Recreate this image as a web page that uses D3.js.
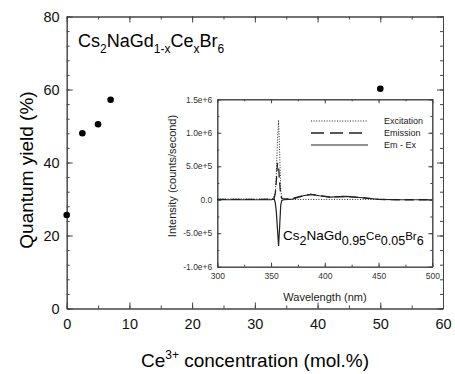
<!DOCTYPE html>
<html>
<head>
<meta charset="utf-8">
<script src="https://cdn.jsdelivr.net/npm/d3@7"></script>
<style>
body { margin: 0; background: #fff; }
svg { font-family: "Liberation Sans", Arial, sans-serif; }
.axis path { stroke: #444; }
.axis line { stroke: #444; }
</style>
</head>
<body>
<div class="container"></div>
<script>
const WIDTH = 455;
const HEIGHT = 374;

// main plot: quantum yield vs Ce concentration
var ceConc = [0, 2.5, 5, 7, 50];
var quantumYield = [25.6, 48, 50.5, 57.2, 60.2];
var mainXTicks = [0, 10, 20, 30, 40, 50, 60];
var mainYTicks = [0, 20, 40, 60, 80];

// inset: spectra for x = 0.05
var exWl = [300, 320, 340, 350, 352, 354, 355, 356, 357, 358, 359, 360, 362, 370, 400, 430, 448];
var exVal = [0.01e6, 0.01e6, 0.01e6, 0.01e6, 0.02e6, 0.1e6, 0.4e6, 0.9e6, 1.19e6, 0.7e6, 0.15e6, 0.03e6, 0.01e6, 0.005e6, 0.005e6, 0.005e6, 0.005e6];
var emWl = [300, 340, 350, 353, 354, 355, 356, 357, 358, 359, 360, 362, 370, 380, 387, 395, 405, 420, 435, 450, 470, 500];
var emVal = [0.005e6, 0.005e6, 0.01e6, 0.03e6, 0.1e6, 0.3e6, 0.55e6, 0.5e6, 0.25e6, 0.06e6, 0.02e6, 0.01e6, 0.02e6, 0.06e6, 0.08e6, 0.06e6, 0.04e6, 0.05e6, 0.03e6, 0.005e6, 0, 0];
var diffWl = [300, 340, 350, 353, 354, 355, 356, 357, 358, 359, 360, 362, 370, 380, 387, 395, 405, 420, 435, 450, 470, 500];
var diffVal = [0, 0, 0, 0.01e6, -0.05e6, -0.2e6, -0.45e6, -0.69e6, -0.4e6, -0.08e6, -0.01e6, 0, 0.01e6, 0.06e6, 0.08e6, 0.06e6, 0.04e6, 0.05e6, 0.03e6, 0.005e6, 0, 0];
var insetXTicks = [300, 350, 400, 450, 500];
var insetYTicks = [-1e6, -5e5, 0, 5e5, 1e6, 1.5e6];
var insetYLabels = ["-1.0e+6", "-5.0e+5", "0.0", "5.0e+5", "1.0e+6", "1.5e+6"];
var legendNames = ["Excitation", "Emission", "Em - Ex"];

var svg = d3.select('.container').append('svg')
	.attr('width', WIDTH)
	.attr('height', HEIGHT);

var mx = d3.scaleLinear().domain([0, 60]).range([66.7, 443]);
var my = d3.scaleLinear().domain([0, 80]).range([308.5, 16.5]);

var range = function(a, b, s){ return d3.range(a, b + s / 2, s); };

var drawAxis = function(axisFn, scale, major, minor, majSize, minSize, transform, fmt, fontSize, pad, color){
	svg.append('g').attr('class', 'axis').attr('transform', transform)
		.call(axisFn(scale).tickValues(minor).tickSize(-minSize).tickFormat('').tickSizeOuter(0));
	var g = svg.append('g').attr('class', 'axis').attr('transform', transform)
		.call(axisFn(scale).tickValues(major).tickSize(-majSize).tickSizeOuter(0).tickPadding(pad).tickFormat(fmt));
	g.selectAll('text').attr('font-size', fontSize).attr('fill', color || '#111').attr('font-family', null);
	return g;
};

// main axes
drawAxis(d3.axisBottom, mx, mainXTicks, range(0, 60, 5), 6, 3, 'translate(0,308.5)', d3.format('d'), 14.5, 10);
drawAxis(d3.axisTop, mx, mainXTicks, range(0, 60, 5), 6, 3, 'translate(0,16.5)', '', 14, 0);
drawAxis(d3.axisLeft, my, mainYTicks, range(0, 80, 4), 6, 3, 'translate(66.7,0)', d3.format('d'), 14.5, 7);
drawAxis(d3.axisRight, my, mainYTicks, range(0, 80, 4), 6, 3, 'translate(443,0)', '', 14, 0);

svg.append('g').selectAll('circle').data(ceConc).enter().append('circle')
	.attr('cx', function(d){ return mx(d); })
	.attr('cy', function(d, i){ return my(quantumYield[i]); })
	.attr('r', 3.3)
	.attr('fill', '#000');

svg.append('text')
	.attr('transform', 'translate(33,170) rotate(-90)')
	.attr('text-anchor', 'middle')
	.attr('font-size', 19)
	.text('Quantum yield (%)');

var xt = svg.append('text').attr('x', 255).attr('y', 367).attr('text-anchor', 'middle').attr('font-size', 19);
xt.append('tspan').text('Ce');
xt.append('tspan').attr('font-size', 12).attr('dy', -8).text('3+');
xt.append('tspan').attr('dy', 8).text(' concentration (mol.%)');

var formula = function(x, y, parts, big, small, shift){
	var t = svg.append('text').attr('x', x).attr('y', y).attr('font-size', big);
	var cur = 0;
	parts.forEach(function(p){
		var target = p.sub ? shift : 0;
		t.append('tspan').attr('dy', target - cur).attr('font-size', p.size || (p.sub ? small : big)).text(p.t);
		cur = target;
	});
	return t;
};

formula(78, 47, [{t: 'Cs'}, {t: '2', sub: 1}, {t: 'NaGd'}, {t: '1-x', sub: 1}, {t: 'Ce'}, {t: 'x', sub: 1}, {t: 'Br'}, {t: '6', sub: 1}], 18, 12, 6);

// inset
var ix = d3.scaleLinear().domain([300, 500]).range([217.3, 432.3]);
var iy = d3.scaleLinear().domain([-1e6, 1.5e6]).range([266.7, 99.3]);

svg.append('rect').attr('x', 217.3).attr('y', 99.3).attr('width', 215).attr('height', 167.4)
	.attr('fill', '#fff');

var labelOf = function(d){ return insetYLabels[insetYTicks.indexOf(d)]; };
drawAxis(d3.axisBottom, ix, insetXTicks, range(300, 500, 25), 4, 2, 'translate(0,266.7)', d3.format('d'), 8.5, 6, '#333');
drawAxis(d3.axisTop, ix, insetXTicks, range(300, 500, 25), 4, 2, 'translate(0,99.3)', '', 9, 0);
drawAxis(d3.axisLeft, iy, insetYTicks, range(-1e6, 1.5e6, 2.5e5), 4, 2, 'translate(217.3,0)', labelOf, 8.5, 5, '#333');
drawAxis(d3.axisRight, iy, insetYTicks, range(-1e6, 1.5e6, 2.5e5), 4, 2, 'translate(432.3,0)', '', 9, 0);

var line = d3.line().x(function(d){ return ix(d[0]); }).y(function(d){ return iy(d[1]); });
var series = [
	{wl: exWl, v: exVal, dash: '1,1.6', w: 1},
	{wl: emWl, v: emVal, dash: '9,5', w: 1.3},
	{wl: diffWl, v: diffVal, dash: null, w: 1.2}
];
series.forEach(function(s){
	svg.append('path')
		.datum(d3.zip(s.wl, s.v))
		.attr('d', line)
		.attr('fill', 'none')
		.attr('stroke', '#222')
		.attr('stroke-width', s.w)
		.attr('stroke-dasharray', s.dash);
});

var lg = svg.append('g');
legendNames.forEach(function(name, i){
	var y = 121 + i * 12;
	lg.append('line').attr('x1', 311).attr('x2', 368).attr('y1', y).attr('y2', y)
		.attr('stroke', '#222').attr('stroke-width', series[i].w)
		.attr('stroke-dasharray', i === 1 ? '13,6' : series[i].dash);
	lg.append('text').attr('x', 384).attr('y', y).attr('dy', '0.35em').attr('font-size', 9).attr('fill', '#222').text(name);
});

svg.append('text')
	.attr('transform', 'translate(176,176) rotate(-90)')
	.attr('text-anchor', 'middle')
	.attr('font-size', 11)
	.attr('fill', '#222')
	.text('Intensity (counts/second)');

svg.append('text').attr('x', 325).attr('y', 301).attr('text-anchor', 'middle').attr('font-size', 11)
	.attr('fill', '#222')
	.text('Wavelength (nm)');

formula(283, 240, [{t: 'Cs'}, {t: '2', sub: 1}, {t: 'NaGd'}, {t: '0.95', sub: 1}, {t: 'Ce', size: 11.5}, {t: '0.05', sub: 1}, {t: 'Br', size: 11.5}, {t: '6', sub: 1}], 13.5, 12.5, 5);
</script>
</body>
</html>
